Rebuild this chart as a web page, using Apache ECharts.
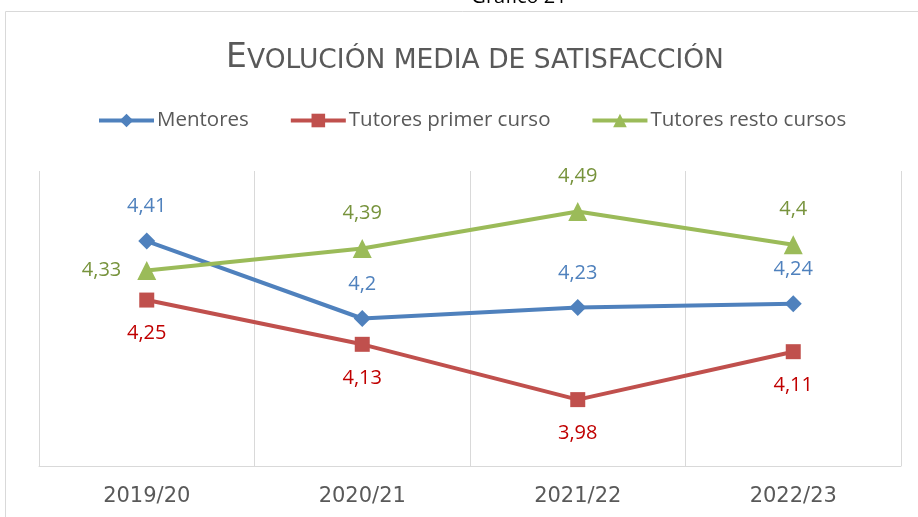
<!DOCTYPE html>
<html>
<head>
<meta charset="utf-8">
<script src="https://cdn.jsdelivr.net/npm/echarts@6/dist/echarts.min.js"></script>
<style>
  html, body { margin: 0; padding: 0; background: #fff; }
  #chart { width: 918px; height: 517px; }
</style>
</head>
<body>
<div id="chart"></div>
<script>
// Values (Spanish decimal comma in labels).
const CATEGORIES = ["2019/20", "2020/21", "2021/22", "2022/23"];
const MENTORES = [4.41, 4.2, 4.23, 4.24];
const TUTORES_PRIMER = [4.25, 4.13, 3.98, 4.11];
const TUTORES_RESTO = [4.33, 4.39, 4.49, 4.4];

const FONT = "'Open Sans', 'Liberation Sans', sans-serif";
// wider face stands in for the letter-spaced small caps of the original
const WIDE_FONT = "'DejaVu Sans', 'Open Sans', sans-serif";
const GREY_TEXT = "#595959";

const fmt = (p) => String(p.value).replace(".", ",");

function series(name, data, color, labelColor, symbol, size, labelPos) {
  return {
    name,
    type: "line",
    data,
    symbol,
    symbolSize: size,
    lineStyle: { color, width: 4 },
    itemStyle: { color },
    label: {
      show: true,
      position: labelPos,
      distance: 16,
      color: labelColor,
      fontFamily: FONT,
      fontSize: 20,
      formatter: fmt,
    },
    emphasis: { disabled: true },
    z: 3,
  };
}

const resto = series("Tutores resto cursos", TUTORES_RESTO, "#9BBB59", "#77933C", "triangle", 19, "top");
// first green label sits to the left of its marker in the reference
resto.data = TUTORES_RESTO.map((v, i) =>
  i === 0 ? { value: v, label: { position: "left", distance: 16 } } : v
);

const chart = echarts.init(document.getElementById("chart"), null, { renderer: "canvas" });
chart.setOption({
  animation: false,
  textStyle: { fontFamily: FONT },
  graphic: [
    {
      type: "rect",
      shape: { x: 5.5, y: 11.5, width: 940, height: 540 },
      style: { fill: "none", stroke: "#D9D9D9", lineWidth: 1 },
      silent: true,
    },
    {
      type: "text",
      x: 519,
      y: -13,
      style: { text: "Gráfico 21", fill: "#000", font: "20px " + FONT, textAlign: "center" },
      silent: true,
    },
  ],
  title: {
    text: "{big|E}{small|VOLUCIÓN MEDIA DE SATISFACCIÓN}",
    left: 470,
    top: 37,
    textAlign: "center",
    textStyle: {
      fontWeight: "normal",
      rich: {
        big: { fontFamily: WIDE_FONT, fontSize: 33, fontWeight: "normal", color: GREY_TEXT },
        small: {
          fontFamily: WIDE_FONT, fontSize: 26.5, fontWeight: "normal", color: GREY_TEXT,
          verticalAlign: "bottom",
        },
      },
    },
  },
  legend: {
    left: 97,
    top: 110,
    padding: 0,
    itemWidth: 55,
    itemHeight: 17,
    itemGap: 40,
    lineStyle: { width: 4 },
    textStyle: { color: GREY_TEXT, fontFamily: FONT, fontSize: 20.5, padding: [0, 0, 0, -2] },
    data: ["Mentores", "Tutores primer curso", "Tutores resto cursos"],
  },
  grid: { left: 39, right: 17, top: 171, bottom: 51 },
  xAxis: {
    type: "category",
    data: CATEGORIES,
    boundaryGap: true,
    axisLine: { lineStyle: { color: "#D9D9D9", width: 1 } },
    axisTick: { show: false },
    splitLine: { show: true, lineStyle: { color: "#D9D9D9", width: 1 } },
    axisLabel: { color: GREY_TEXT, fontFamily: WIDE_FONT, fontSize: 21, margin: 20 },
  },
  yAxis: {
    type: "value",
    min: 3.8,
    max: 4.6,
    show: false,
    splitLine: { show: false },
  },
  series: [
    series("Mentores", MENTORES, "#4F81BD", "#4F81BD", "diamond", 17, "top"),
    series("Tutores primer curso", TUTORES_PRIMER, "#C0504D", "#C00000", "rect", 15, "bottom"),
    resto,
  ],
});
</script>
</body>
</html>
